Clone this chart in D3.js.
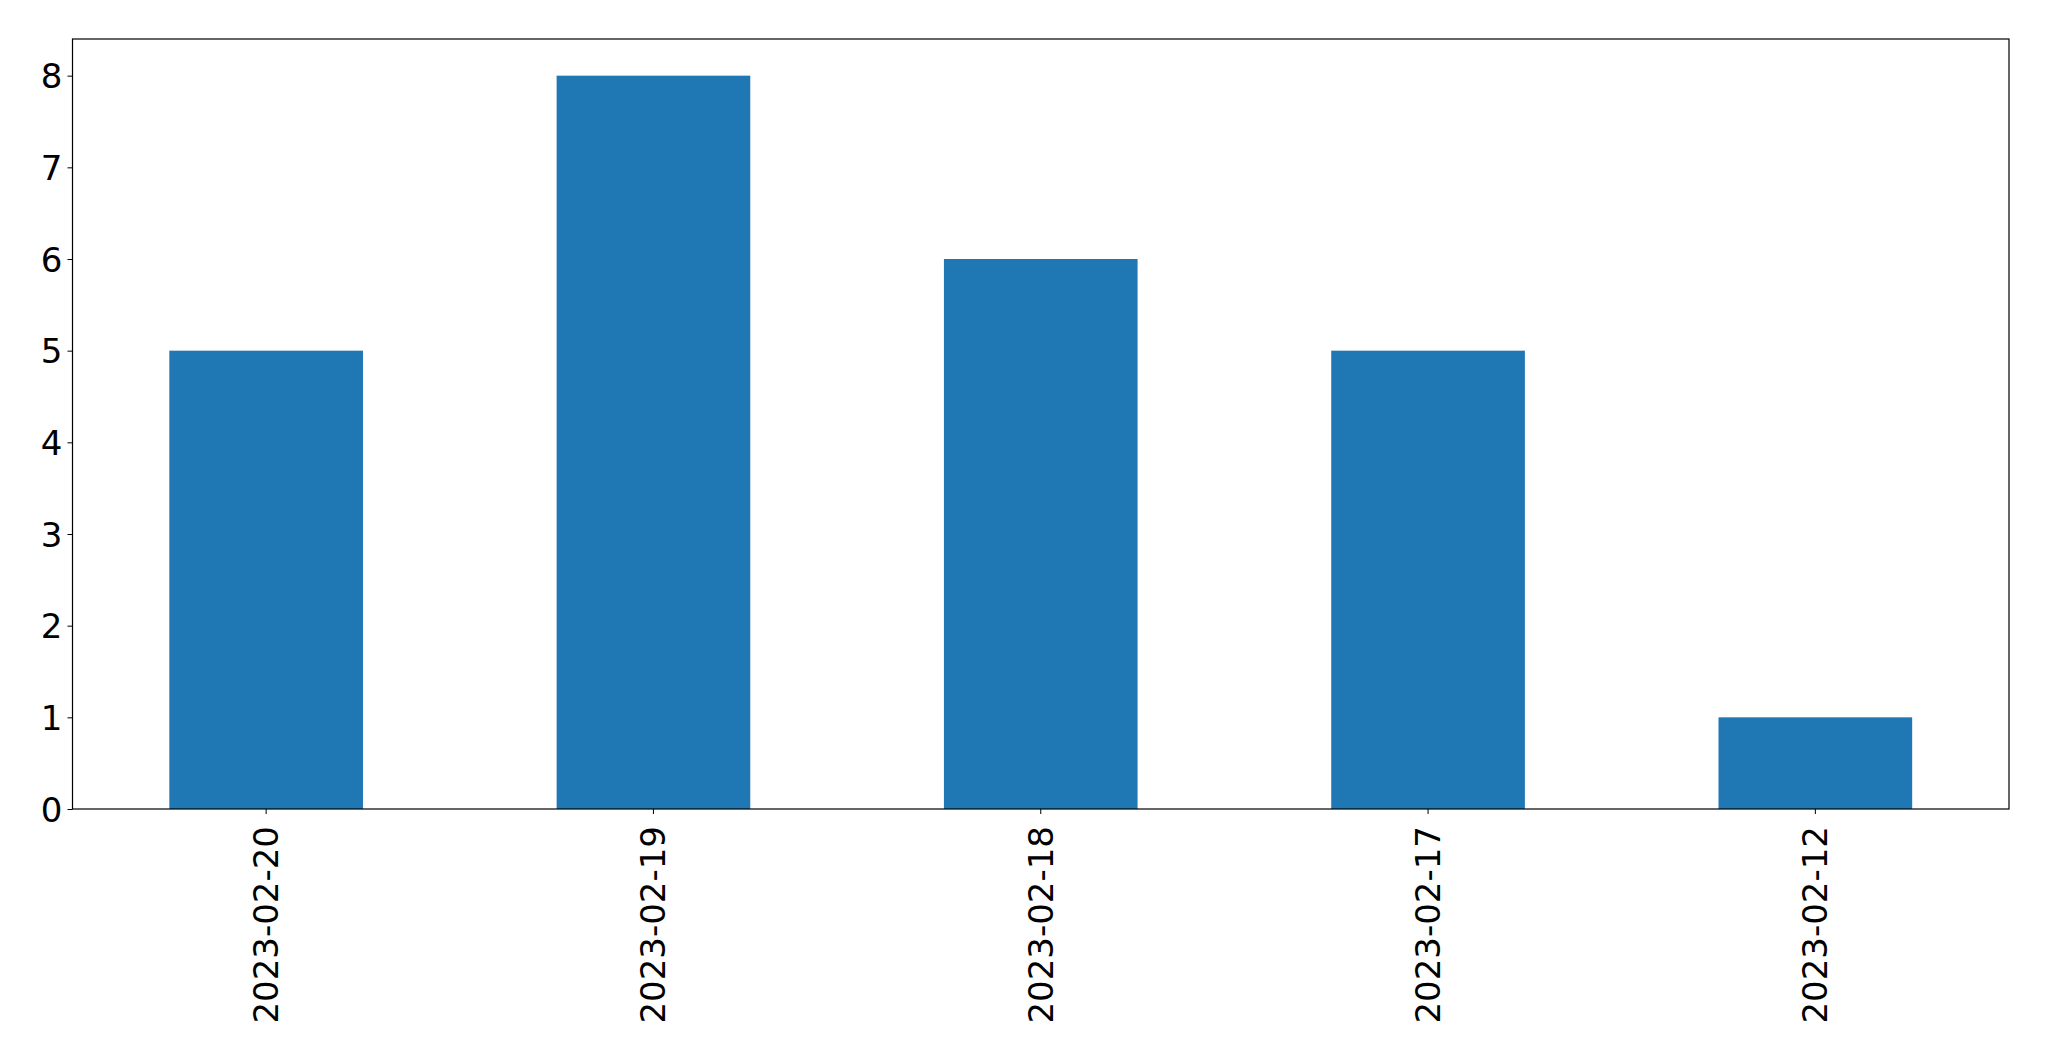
<!DOCTYPE html>
<html>
<head>
<meta charset="utf-8">
<script src="https://cdn.jsdelivr.net/npm/d3@7"></script>
<style>
  html, body { margin: 0; padding: 0; background: #fff; }
  svg { display: block; }
</style>
</head>
<body>
<script>
const categories = ["2023-02-20", "2023-02-19", "2023-02-18", "2023-02-17", "2023-02-12"];
const values = [5, 8, 6, 5, 1];
const yTicks = [0, 1, 2, 3, 4, 5, 6, 7, 8];

(function () {
const W = 2049, H = 1061;
const mLeft = 72.5, mRight = 2009, mTop = 39, mBottom = 809;
const fontSize = 34;
const font = "DejaVu Sans, sans-serif";

const svg = d3.select("body").append("svg").attr("width", W).attr("height", H);

const x = d3.scaleBand().domain(categories).range([mLeft, mRight]).paddingInner(0.5).paddingOuter(0.25);
const y = d3.scaleLinear().domain([0, 8.4]).range([mBottom, mTop]);

svg.append("g").selectAll("rect").data(categories).join("rect")
  .attr("x", (d) => x(d))
  .attr("width", x.bandwidth())
  .attr("y", (d, i) => y(values[i]))
  .attr("height", (d, i) => y(0) - y(values[i]))
  .attr("fill", "#1f77b4");

// y axis
const yAxis = d3.axisLeft(y).tickValues(yTicks).tickSize(5).tickPadding(5).tickFormat(d3.format("d"));
const gy = svg.append("g").attr("transform", `translate(${mLeft},0)`).call(yAxis);
gy.select(".domain").remove();
gy.selectAll(".tick line").attr("stroke", "#000").attr("stroke-width", 1);
gy.selectAll(".tick text").attr("font-family", font).attr("font-size", fontSize).attr("fill", "#000").attr("dy", "0.36em");

// x axis
const xAxis = d3.axisBottom(x).tickSize(5).tickPadding(0);
const gx = svg.append("g").attr("transform", `translate(0,${mBottom})`).call(xAxis);
gx.select(".domain").remove();
gx.selectAll(".tick line").attr("stroke", "#000").attr("stroke-width", 1);
gx.selectAll(".tick text")
  .attr("font-family", font).attr("font-size", fontSize).attr("fill", "#000")
  .attr("text-anchor", "end")
  .attr("dy", null)
  .attr("y", 0)
  .attr("transform", "translate(0,17) rotate(-90)")
  .attr("dominant-baseline", "central");

// frame
svg.append("rect")
  .attr("x", mLeft).attr("y", mTop)
  .attr("width", mRight - mLeft).attr("height", mBottom - mTop)
  .attr("fill", "none").attr("stroke", "#000").attr("stroke-width", 1.2);
})();
</script>
</body>
</html>
